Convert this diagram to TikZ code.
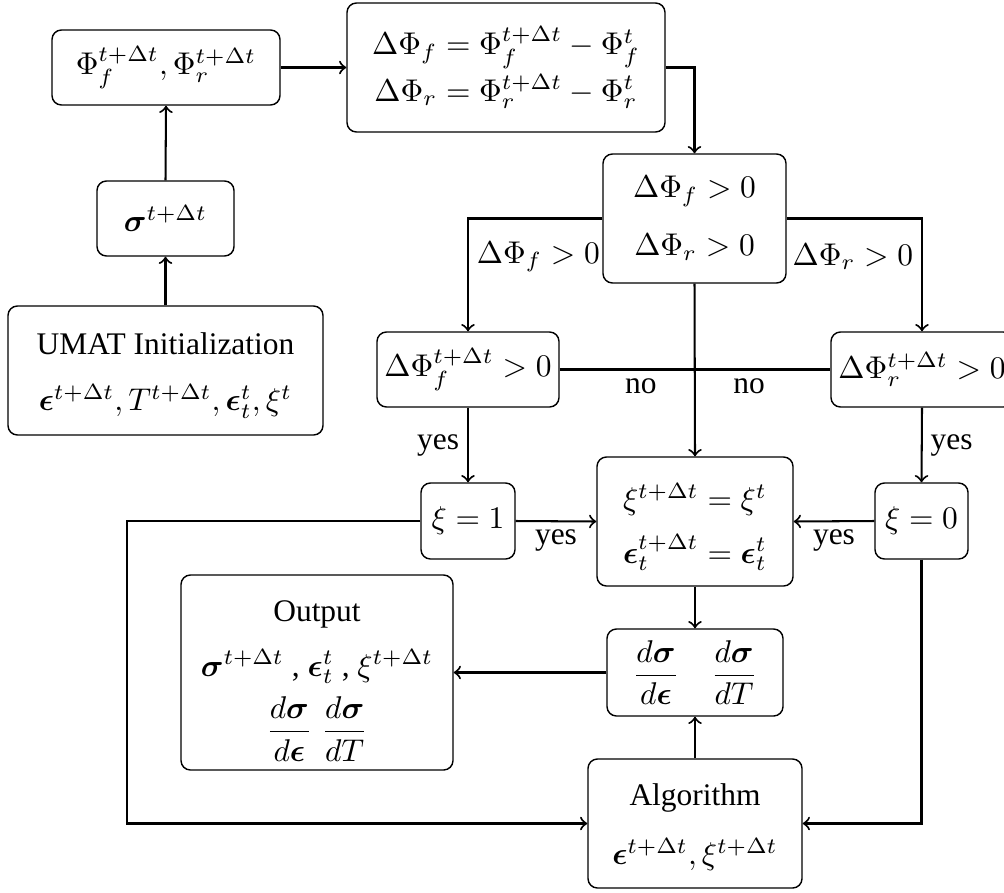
\documentclass[tikz,border=0pt]{standalone}
\usepackage{amsmath,bm}
\usepackage[no-math]{fontspec}
\setmainfont{Liberation Serif}
\newcommand{\topstrut}[1]{\rule{0pt}{#1}}
\begin{document}
\begin{tikzpicture}[x=0.318pt,y=-0.318pt,
  box/.style={draw, rounded corners=3pt, align=center, inner sep=0pt, line width=0.45pt},
  wh/.style 2 args={minimum width=#1*0.318pt, minimum height=#2*0.318pt},
  conn/.style={line width=0.65pt},
  arr/.style={conn,->},
  lab/.style={inner sep=2.5pt}]
\useasboundingbox (0,0) rectangle (1004,892);
% nodes
\node[box,wh={228}{75}] (A) at (166,67.5) {$\Phi_f^{t+\Delta t}, \Phi_r^{t+\Delta t}$};
\node[box,wh={318}{129}] (B) at (506,67.5) {$\Delta\Phi_f = \Phi_f^{t+\Delta t} - \Phi_f^t$\\[1pt] $\Delta\Phi_r = \Phi_r^{t+\Delta t} - \Phi_r^t$};
\node[box,wh={137}{75}] (sig) at (165.5,218.5) {$\bm{\sigma}^{t+\Delta t}$};
\node[box,wh={315}{129}] (U) at (165.5,370.5) {\topstrut{10pt}UMAT Initialization\\[6pt] $\bm{\epsilon}^{t+\Delta t}, T^{t+\Delta t}, \bm{\epsilon}_t^t, \xi^t$};
\node[box,wh={183}{129}] (C) at (694.5,218.5) {$\Delta\Phi_f > 0$\\[6.5pt] $\Delta\Phi_r > 0$};
\node[box,wh={182}{75}] (L) at (468,369.5) {$\Delta\Phi_f^{t+\Delta t} > 0$};
\node[box,wh={182}{75}] (R) at (922,369.5) {$\Delta\Phi_r^{t+\Delta t} > 0$};
\node[box,wh={94}{76}] (xi1) at (468,521) {$\xi = 1$};
\node[box,wh={196}{129}] (M) at (695,521.5) {\topstrut{12pt}$\xi^{t+\Delta t} = \xi^t$\\[5pt] $\bm{\epsilon}_t^{t+\Delta t} = \bm{\epsilon}_t^t$};
\node[box,wh={93}{76}] (xi0) at (921.5,521) {$\xi = 0$};
\node[box,wh={272}{195}] (Out) at (317,672.5) {\topstrut{11.8pt}Output\\[5.5pt] $\bm{\sigma}^{t+\Delta t}$ , $\bm{\epsilon}_t^t$ , $\xi^{t+\Delta t}$\\[3pt] $\dfrac{d\bm{\sigma}}{d\bm{\epsilon}}\;\dfrac{d\bm{\sigma}}{dT}$};
\node[box,wh={176}{87}] (D) at (695,672.5) {$\dfrac{d\bm{\sigma}}{d\bm{\epsilon}}\quad\dfrac{d\bm{\sigma}}{dT}$};
\node[box,wh={214}{129}] (Alg) at (695,823.5) {\topstrut{9.5pt}Algorithm\\[6.7pt] $\bm{\epsilon}^{t+\Delta t}, \xi^{t+\Delta t}$};
\coordinate (lc) at (127,823.5);
% connectors
\draw[arr] (U.north) -- (sig.south);
\draw[arr] (sig.north) -- (A.south);
\draw[arr] (A.east) -- (B.west);
\draw[arr] (B.east) -| (C.north);
\draw[arr] (C.west) -| node[pos=0.67,right,lab]{$\Delta\Phi_f > 0$} (L.north);
\draw[arr] (C.east) -| node[pos=0.67,left,lab]{$\Delta\Phi_r > 0$} (R.north);
\draw[arr] (C.south) -- (M.north);
\draw[conn] (L.east) -- node[pos=0.3,below,lab]{no} node[pos=0.7,below,lab]{no} (R.west);
\draw[arr] (L.south) -- node[left,lab]{yes} (xi1.north);
\draw[arr] (R.south) -- node[right,lab]{yes} (xi0.north);
\draw[arr] (xi1.east) -- node[below,lab]{yes} (M.west);
\draw[arr] (xi0.west) -- node[below,lab]{yes} (M.east);
\draw[arr] (xi1.west) -| (lc) -- (Alg.west);
\draw[arr] (xi0.south) |- (Alg.east);
\draw[arr] (M.south) -- (D.north);
\draw[arr] (Alg.north) -- (D.south);
\draw[arr] (D.west) -- (Out.east);
\end{tikzpicture}
\end{document}
